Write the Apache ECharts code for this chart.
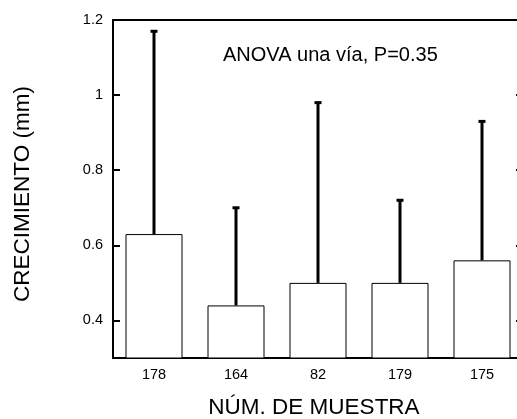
<!DOCTYPE html>
<html>
<head>
<meta charset="utf-8">
<script src="https://cdn.jsdelivr.net/npm/echarts@6/dist/echarts.min.js"></script>
<style>
  html, body { margin: 0; padding: 0; background: #fff; }
  #chart { width: 517px; height: 419px; }
</style>
</head>
<body>
<div id="chart"></div>
<script>
// Sample numbers along the x axis
const muestras = ['178', '164', '82', '179', '175'];
// Mean growth per sample (mm)
const crecimiento = [0.63, 0.44, 0.50, 0.50, 0.56];
// Upper end of each error bar (mm)
const limiteSuperior = [1.17, 0.70, 0.98, 0.72, 0.93];
// Y tick positions
const ticksY = [0.4, 0.6, 0.8, 1.0, 1.2];

const FONT = "'Liberation Sans', Arial, Helvetica, sans-serif";

const chart = echarts.init(document.getElementById('chart'), null, { renderer: 'canvas' });

const errorData = muestras.map((m, i) => [i, crecimiento[i], limiteSuperior[i]]);

chart.setOption({
  animation: false,
  backgroundColor: '#fff',
  grid: { left: 113, top: 20, width: 410, height: 338, containLabel: false, outerBoundsMode: 'none' },
  xAxis: [
    {
      type: 'category',
      data: muestras,
      position: 'bottom',
      boundaryGap: true,
      name: 'NÚM. DE MUESTRA',
      nameLocation: 'middle',
      nameGap: 38,
      nameTextStyle: { fontFamily: FONT, fontSize: 22.5, color: '#000', padding: [0, 8, 0, 0] },
      axisLine: { lineStyle: { color: '#000', width: 2 } },
      axisTick: { inside: true, length: 7, lineStyle: { color: '#000', width: 2 } },
      axisLabel: { fontFamily: FONT, fontSize: 14.5, color: '#000', margin: 9 },
      splitLine: { show: false }
    },
    {
      type: 'category',
      data: muestras,
      position: 'top',
      boundaryGap: true,
      axisLine: { lineStyle: { color: '#000', width: 2 } },
      axisTick: { inside: true, length: 7, lineStyle: { color: '#000', width: 2 } },
      axisLabel: { show: false },
      splitLine: { show: false }
    }
  ],
  yAxis: [
    {
      type: 'value',
      min: 0.3,
      max: 1.2,
      position: 'left',
      name: 'CRECIMIENTO (mm)',
      nameLocation: 'middle',
      nameGap: 79,
      nameTextStyle: { fontFamily: FONT, fontSize: 22.5, color: '#000', padding: [0, 10, 0, 0] },
      axisLine: { show: true, lineStyle: { color: '#000', width: 2 } },
      axisTick: { show: true, inside: true, length: 7, customValues: ticksY,
                  lineStyle: { color: '#000', width: 2 } },
      axisLabel: { fontFamily: FONT, fontSize: 14.5, color: '#000', margin: 10,
                   customValues: ticksY },
      splitLine: { show: false }
    },
    {
      type: 'value',
      min: 0.3,
      max: 1.2,
      position: 'right',
      axisLine: { show: true, lineStyle: { color: '#000', width: 2 } },
      axisTick: { show: true, inside: true, length: 7, customValues: ticksY,
                  lineStyle: { color: '#000', width: 2 } },
      axisLabel: { show: false, customValues: ticksY },
      splitLine: { show: false }
    }
  ],
  graphic: [
    {
      type: 'text',
      left: 223,
      top: 45,
      style: {
        text: 'ANOVA una vía, P=0.35',
        font: '20px ' + FONT,
        fill: '#000'
      }
    }
  ],
  series: [
    {
      type: 'bar',
      data: crecimiento,
      barWidth: 57,
      itemStyle: { color: '#fff', borderColor: '#000', borderWidth: 1 },
      z: 2
    },
    {
      type: 'custom',
      data: errorData,
      z: 3,
      renderItem: function (params, api) {
        const x = api.value(0);
        const low = api.coord([x, api.value(1)]);
        const high = api.coord([x, api.value(2)]);
        const capHalf = 3.5;
        const style = { stroke: '#000', lineWidth: 3, fill: null };
        return {
          type: 'group',
          children: [
            { type: 'line', shape: { x1: low[0], y1: low[1], x2: high[0], y2: high[1] }, style: style },
            { type: 'line', shape: { x1: high[0] - capHalf, y1: high[1], x2: high[0] + capHalf, y2: high[1] }, style: style }
          ]
        };
      }
    }
  ]
});
</script>
</body>
</html>
